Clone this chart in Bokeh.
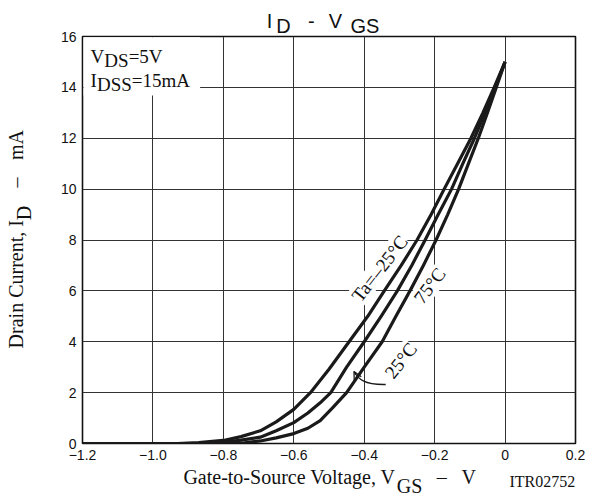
import math
from bokeh.plotting import figure
from bokeh.models import Label, BoxAnnotation, FixedTicker, Range1d, Arrow, OpenHead, LinearAxis
from bokeh.embed import file_html
from bokeh.resources import INLINE

# ---- data (VGS in V, ID in mA) ----
vgs_m25 = [-1.2, -0.93, -0.87, -0.8, -0.75, -0.695, -0.65, -0.6, -0.55, -0.5, -0.443, -0.39, -0.343,
           -0.295, -0.25, -0.21, -0.173, -0.135, -0.097, -0.063, -0.031, 0.0]
id_m25 = [0.0, 0.0, 0.04, 0.12, 0.27, 0.5, 0.85, 1.34, 2.04, 2.92, 4.0, 5.0, 6.0,
          7.0, 8.0, 9.0, 10.0, 11.0, 12.0, 13.0, 14.0, 15.0]

vgs_25 = [-1.2, -0.85, -0.8, -0.75, -0.695, -0.65, -0.6, -0.56, -0.525, -0.495, -0.45, -0.40, -0.352,
          -0.306, -0.265, -0.227, -0.19, -0.152, -0.12, -0.087, -0.057, -0.028, 0.0]
id_25 = [0.0, 0.0, 0.05, 0.13, 0.25, 0.5, 0.82, 1.2, 1.6, 2.0, 3.0, 4.0, 5.0,
         6.0, 7.0, 8.0, 9.0, 10.0, 11.0, 12.0, 13.0, 14.0, 15.0]

vgs_75 = [-1.2, -0.78, -0.74, -0.695, -0.65, -0.6, -0.56, -0.525, -0.49, -0.45, -0.40, -0.349, -0.31,
          -0.27, -0.232, -0.196, -0.163, -0.132, -0.104, -0.076, -0.05, -0.025, 0.0]
id_75 = [0.0, 0.0, 0.03, 0.1, 0.22, 0.39, 0.6, 0.9, 1.4, 2.0, 3.0, 4.0, 5.0,
         6.0, 7.0, 8.0, 9.0, 10.0, 11.0, 12.0, 13.0, 14.0, 15.0]

x_ticks = [-1.2, -1.0, -0.8, -0.6, -0.4, -0.2, 0.0, 0.2]
x_tick_labels = ["\u22121.2", "\u22121.0", "\u22120.8", "\u22120.6", "\u22120.4", "\u22120.2", "0", "0.2"]
y_ticks = [0, 2, 4, 6, 8, 10, 12, 14, 16]

SERIF = "Liberation Serif"
SANS = "Liberation Sans"
INK = "#111111"

p = figure(width=593, height=500, output_backend="svg", toolbar_location=None, title_location=None,
           x_range=Range1d(-1.2, 0.2), y_range=Range1d(0, 16),
           min_border_left=82, min_border_right=18, min_border_top=36, min_border_bottom=57)
p.background_fill_color = "white"
p.border_fill_color = "white"
p.outline_line_color = INK
p.outline_line_width = 1.6


def style_axis(ax, font, size, standoff):
    ax.axis_line_color = None
    ax.major_tick_line_color = None
    ax.minor_tick_line_color = None
    ax.major_tick_out = 0
    ax.major_tick_in = 0
    ax.minor_tick_out = 0
    ax.minor_tick_in = 0
    ax.major_label_text_font = font
    ax.major_label_text_font_size = size
    ax.major_label_text_color = INK
    ax.major_label_standoff = standoff


xa = p.xaxis[0]
ya = p.yaxis[0]
style_axis(xa, SANS, "14px", 6)
style_axis(ya, SANS, "14px", 6)
xa.ticker = FixedTicker(ticks=x_ticks)
xa.major_label_overrides = {t: s for t, s in zip(x_ticks, x_tick_labels)}
ya.ticker = FixedTicker(ticks=y_ticks)

p.xgrid.ticker = FixedTicker(ticks=x_ticks)
p.ygrid.ticker = FixedTicker(ticks=y_ticks)
for g in (p.xgrid[0], p.ygrid[0]):
    g.grid_line_color = "#333333"
    g.grid_line_width = 1


def text_axis(side, ticks, labels, font, size, standoff, orientation="horizontal"):
    ax = LinearAxis(ticker=FixedTicker(ticks=ticks),
                    major_label_overrides={t: s for t, s in zip(ticks, labels)})
    style_axis(ax, font, size, standoff)
    ax.major_label_orientation = orientation
    p.add_layout(ax, side)


# title  I_D - V_GS  (inner row: subscripts, outer row: main letters)
text_axis("above", [-0.629, -0.398], ["D", "GS"], SANS, "20px", 0)
text_axis("above", [-0.669, -0.550, -0.482], ["I", "-", "V"], SANS, "20px", -20)

# y axis title (rotated): inner = subscript, outer = main text
text_axis("left", [9.06], ["D"], SERIF, "20px", 22, "vertical")
text_axis("left", [6.26, 10.26, 11.73], ["Drain Current, I", "\u2013", "mA"], SERIF, "20px", -17, "vertical")

# x axis title + drawing number
text_axis("below", [-0.612, -0.180, -0.103], ["Gate-to-Source Voltage, V", "\u2013", "V"], SERIF, "20px", 3)
text_axis("below", [0.106], ["ITR02752"], SERIF, "16px", -18)
text_axis("below", [-0.271], ["GS"], SERIF, "20px", -18)

# white box behind the conditions text
p.add_layout(BoxAnnotation(left=-1.197, right=-0.866, bottom=13.68, top=15.97,
                           fill_color="white", fill_alpha=1.0, line_color=None, level="underlay"))

for xs, ys in ((vgs_m25, id_m25), (vgs_25, id_25), (vgs_75, id_75)):
    p.line(xs, ys, line_color="#1a1a1a", line_width=3.2, line_join="round")


def lab(x, y, text, font=SERIF, size="19px", align="left", baseline="alphabetic", angle=0.0, bg=None):
    l = Label(x=x, y=y, text=text, text_font=font, text_font_size=size, text_color=INK,
              text_align=align, text_baseline=baseline, angle=angle)
    if bg:
        l.background_fill_color = bg
        l.background_fill_alpha = 1.0
    p.add_layout(l)


# conditions
lab(-1.177, 15.21, "V")
lab(-1.138, 15.05, "DS")
lab(-1.069, 15.21, "=5V")
lab(-1.177, 14.27, "I")
lab(-1.159, 14.11, "DSS")
lab(-1.060, 14.27, "=15mA")

# curve labels
ang = math.radians(52)
lab(-0.356, 6.88, "Ta=\u201325\u00b0C", align="center", baseline="middle", angle=ang, bg="white")
lab(-0.214, 6.21, "75\u00b0C", align="center", baseline="middle", angle=math.radians(53), bg="white")
lab(-0.296, 3.26, "25\u00b0C", align="center", baseline="middle", angle=ang, bg="white")

# arrow from 25 C label to its curve
p.bezier(x0=[-0.339], y0=[2.32], x1=[-0.429], y1=[2.83], cx0=[-0.400], cy0=[2.30], cx1=[-0.418], cy1=[2.55],
         line_color="#1a1a1a", line_width=1.3)
p.add_layout(Arrow(end=OpenHead(size=8, line_width=1.3, line_color="#1a1a1a"),
                   x_start=-0.424, y_start=2.70, x_end=-0.429, y_end=2.83,
                   line_color="#1a1a1a", line_width=1.3))

open("out.html", "w").write(file_html(p, INLINE))
